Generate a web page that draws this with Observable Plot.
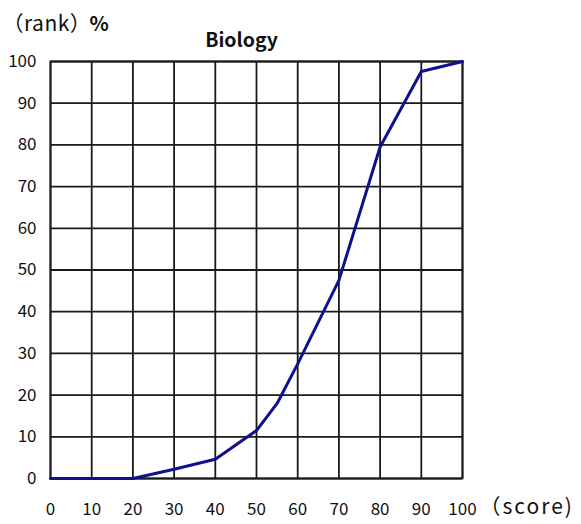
<!DOCTYPE html>
<html>
<head>
<meta charset="utf-8">
<script src="https://cdn.jsdelivr.net/npm/d3@7"></script>
<script src="https://cdn.jsdelivr.net/npm/@observablehq/plot@0.6"></script>
<style>
  html, body { margin: 0; padding: 0; background: #fff; }
  #chart svg { display: block; }
</style>
</head>
<body>
<div id="chart"></div>
<script>
const scores = [0, 10, 20, 30, 40, 50, 55, 60, 70, 80, 90, 100];
const ranks  = [0, 0, 0, 2.2, 4.6, 11.5, 18, 27.5, 47.5, 79.5, 97.6, 100];
const xTicks = [0, 10, 20, 30, 40, 50, 60, 70, 80, 90, 100];
const yTicks = [0, 10, 20, 30, 40, 50, 60, 70, 80, 90, 100];
const title = "Biology";
const yLabel = "（rank）";
const yUnit = "%";
const xLabel = "（score)";

const data = scores.map((s, i) => ({score: s, rank: ranks[i]}));
const font = "'Noto Sans CJK JP', 'Noto Sans', sans-serif";

const chart = Plot.plot({
  width: 581,
  height: 524,
  marginLeft: 50,
  marginRight: 119,
  marginTop: 61,
  marginBottom: 46,
  style: {fontFamily: font, fontSize: "17px", color: "#111", background: "#fff"},
  x: {domain: [0, 100], ticks: xTicks},
  y: {domain: [0, 100], ticks: yTicks},
  marks: [
    Plot.gridX(xTicks, {stroke: "#1a1a1a", strokeOpacity: 1, strokeWidth: 1.8}),
    Plot.gridY(yTicks, {stroke: "#1a1a1a", strokeOpacity: 1, strokeWidth: 1.8}),
    Plot.frame({stroke: "#1a1a1a", strokeWidth: 1.8}),
    Plot.axisX(xTicks, {tickSize: 0, tickPadding: 24, label: null, fontSize: 17}),
    Plot.axisY(yTicks, {tickSize: 0, tickPadding: 14, label: null, fontSize: 17}),
    Plot.line(data, {x: "score", y: "rank", stroke: "#10108c", strokeWidth: 3, strokeLinejoin: "round"}),
    Plot.text([title], {frameAnchor: "top-left", dx: 191, dy: -28, text: d => d, textAnchor: "middle", fontSize: 19.5, fontWeight: "bold"}),
    Plot.text([yLabel], {frameAnchor: "top-left", dx: -48, dy: -45, text: d => d, textAnchor: "start", fontSize: 21}),
    Plot.text([yUnit], {frameAnchor: "top-left", dx: 39, dy: -45, text: d => d, textAnchor: "start", fontSize: 20, fontWeight: "bold"}),
    Plot.text([xLabel], {frameAnchor: "bottom-right", dx: 17, dy: 35, text: d => d, textAnchor: "start", fontSize: 21})
  ]
});
// widen letter spacing of the axis captions to mimic the original gothic font
d3.select(chart).selectAll("text").filter(function() {
  const t = this.textContent;
  return t === xLabel || t === yLabel;
}).attr("letter-spacing", function() { return this.textContent === xLabel ? 2 : 0.5; });
document.getElementById("chart").appendChild(chart);
</script>
</body>
</html>
